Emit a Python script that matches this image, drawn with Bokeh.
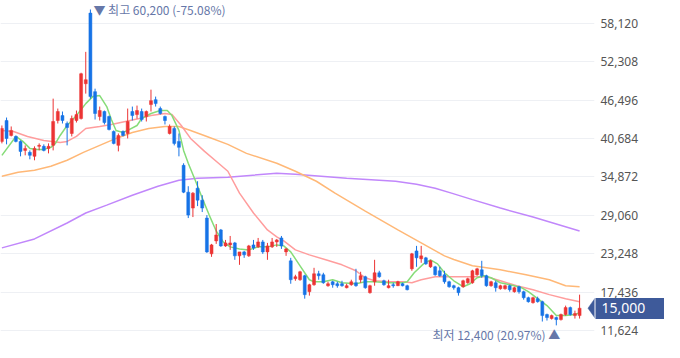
from bokeh.plotting import figure
from bokeh.models import (ColumnDataSource, FixedTicker, NumeralTickFormatter, Label,
                          Range1d, LinearAxis)
from bokeh.embed import file_html
from bokeh.resources import INLINE

# ---- candle data (KRW) ----
opens = [40240, 43400, 41140, 40990, 40240, 38880, 38580, 37980, 39490, 39490,
         39180, 39640, 43400, 44150, 42950, 41440, 43400, 43700, 48970, 59660,
         47770, 44000, 44760, 44000, 41740, 39640, 41740, 41440, 44760, 44300,
         44760, 44000, 45810, 46560, 45210, 44000, 41440, 42200, 40240, 36620,
         32560, 30150, 33160, 31350, 28640, 23220, 25180, 26840, 24430, 24580,
         24880, 22920, 23520, 22920, 24580, 24280, 25030, 23520, 24280, 25030,
         25630, 23520, 22170, 19460, 19310, 19910, 17500, 18550, 20210, 20060,
         18400, 19000, 18700, 18700, 18100, 18550, 18850, 19310, 19760, 17350,
         19000, 20360, 19150, 18100, 18550, 18400, 18700, 18400, 20960, 23670,
         22470, 22620, 21260, 21260, 20660, 20060, 19000, 18400, 18100, 18250,
         18850, 18850, 20060, 20810, 19910, 18400, 18850, 17950, 17950, 18400,
         17500, 18250, 17500, 16590, 15840, 16440, 15990, 14030, 13430, 13580,
         13280, 14030, 15090, 13880, 13880]
highs = [42650, 43850, 42500, 41140, 40390, 39640, 38880, 39490, 39940, 39790,
         39940, 46710, 45210, 44760, 43250, 44150, 44910, 50630, 53790, 60200,
         48220, 45510, 44910, 44150, 41900, 41440, 41900, 45210, 45510, 45660,
         45210, 44910, 48070, 47020, 45510, 44150, 42800, 42500, 41440, 36930,
         33460, 32560, 34210, 32100, 29090, 24730, 27740, 26990, 25330, 25930,
         25030, 23520, 23670, 24580, 25330, 25630, 25330, 24880, 25630, 25480,
         25930, 24120, 22620, 20060, 20660, 20060, 18700, 21110, 20660, 20360,
         19000, 19150, 19000, 19150, 18700, 19310, 20960, 20510, 19910, 18550,
         22320, 20660, 19310, 19310, 18850, 19150, 18850, 18550, 23370, 24430,
         24430, 22770, 22320, 21410, 21260, 20660, 19150, 18550, 18250, 19310,
         19610, 20810, 21110, 22170, 20060, 19150, 19150, 18550, 18550, 18550,
         18250, 18400, 17650, 16740, 16740, 16740, 16140, 14180, 14030, 13730,
         14180, 15390, 15240, 14630, 17050]
lows = [39940, 39790, 40990, 40090, 37980, 38130, 37530, 37380, 38880, 38730,
        38430, 38880, 42950, 42950, 39640, 40990, 43100, 43550, 47470, 46710,
        43550, 43400, 42800, 41900, 39790, 38730, 40990, 40690, 43400, 43700,
        43250, 43250, 44760, 45510, 44300, 42800, 41290, 39640, 37980, 32410,
        28640, 28790, 30450, 29550, 23370, 22770, 24730, 24280, 24280, 23820,
        22320, 21560, 22620, 22770, 23820, 24120, 23220, 22320, 24120, 24280,
        23970, 22920, 18700, 19150, 19150, 16440, 16900, 18400, 19310, 18700,
        18250, 18100, 18100, 18250, 18000, 18400, 18250, 18850, 17950, 17200,
        18400, 19610, 18400, 18000, 18100, 18350, 18300, 17700, 20660, 21260,
        21870, 21560, 21110, 19910, 19760, 18700, 18100, 17800, 16900, 18100,
        18700, 18700, 19910, 19610, 18250, 18250, 17500, 17800, 17800, 17500,
        17350, 17200, 16290, 15840, 15690, 15840, 12980, 13130, 13280, 12400,
        13130, 13880, 13880, 13430, 13430]
closes = [42200, 40690, 41900, 40240, 38730, 39180, 38130, 39180, 39640, 38880,
          39490, 43250, 44760, 43400, 42350, 43700, 44300, 50480, 49580, 47020,
          44460, 44910, 43100, 42050, 39940, 41140, 41140, 43250, 44150, 44910,
          43550, 44760, 46410, 45960, 44460, 43400, 42500, 39940, 39340, 32560,
          29090, 32410, 31350, 30150, 23520, 24580, 26080, 24430, 24880, 24880,
          22920, 23520, 23070, 24430, 24120, 25030, 23520, 24430, 25030, 25330,
          24430, 23970, 19310, 19760, 20510, 17050, 18550, 20210, 19910, 18850,
          18700, 18550, 18400, 18400, 18400, 19000, 18400, 19910, 18100, 18400,
          20360, 19760, 18550, 18400, 18400, 19000, 18400, 17800, 23220, 22620,
          22920, 21710, 22170, 20060, 19910, 19000, 18250, 18100, 17350, 19150,
          19460, 20660, 20960, 19910, 18400, 19000, 18100, 18400, 18400, 17800,
          18100, 17500, 16590, 15990, 16590, 15990, 13880, 13580, 13880, 13280,
          14030, 15090, 14030, 14180, 15000]

# ---- moving averages (sampled along the session index) ----
ma5_x = [0, 3, 4.5, 6, 7.5, 9, 10.5, 11.5, 12.5, 14, 15, 16, 18, 19.5, 21, 22.5, 23.5,
         24.5, 26, 27, 29, 30, 32, 34, 35.5, 36.5, 38, 39, 40, 41.5, 43, 44.5, 46, 47.5,
         49, 51, 53, 55, 57, 59, 60.5, 62, 64, 66, 67, 69, 71, 73, 76, 78, 80, 83, 86,
         87, 88.5, 90.5, 92, 93.5, 95, 97, 99, 100.5, 102, 103.5, 105, 107, 110, 111.5,
         113, 115, 117, 119, 121, 123, 124]
ma5_v = [38130, 40990, 40240, 39180, 39030, 39030, 39340, 39940, 41140, 42650, 43400,
         44150, 45960, 47020, 47170, 45510, 43550, 41900, 41600, 41900, 42650, 43700,
         44460, 44910, 44910, 44150, 41900, 38880, 36930, 34360, 31660, 29090, 26680,
         25030, 24280, 23970, 23820, 24280, 24280, 24580, 24430, 23520, 21410, 19310,
         19000, 19000, 19310, 18850, 18700, 19000, 19000, 18850, 18850, 19000, 20360,
         21710, 22320, 21710, 20360, 19150, 18250, 18700, 19610, 19910, 19610, 18850,
         18400, 18100, 17500, 16440, 15390, 13880, 13880, 14030, 14330]
ma20_x = [0, 2.5, 5.5, 9, 12.5, 14, 16, 18, 21, 23.5, 26.5, 29.5, 32, 35, 36.5, 38.5,
          40.5, 43.5, 46.5, 48.5, 51, 54, 57, 59, 60.5, 63, 66, 69.5, 73, 76, 78, 80,
          83, 86, 88, 90, 93, 97, 101, 104, 107, 110.5, 114, 117.5, 121, 124]
ma20_v = [41900, 41740, 40990, 40390, 40090, 40240, 40990, 42200, 42500, 42800, 43250,
          43700, 44150, 44460, 44300, 42650, 40690, 38730, 36930, 35720, 32410, 29400,
          26840, 25780, 25180, 23820, 23070, 22320, 21560, 20660, 19610, 19150, 19000,
          19000, 18850, 19310, 19760, 19760, 19760, 19760, 19150, 18400, 17800, 17050,
          16440, 15990]
ma60_x = [0, 3.5, 7, 10.5, 14, 17.5, 21, 24.5, 28, 31.5, 35, 38, 40.5, 44, 48.5, 52.5,
          59, 63, 67.5, 71.5, 78, 85, 90, 95, 97, 101, 107, 112.5, 117.5, 121, 124]
ma60_v = [34970, 35570, 35870, 36470, 37380, 38580, 39640, 40690, 41590, 42200, 42500,
          42500, 41900, 40990, 39790, 38430, 36930, 35720, 34210, 32410, 29700, 26840,
          24880, 22920, 22370, 21410, 20810, 20060, 19310, 18400, 18250]
ma120_x = [0, 7, 14, 18, 22.5, 28, 33.5, 38, 42, 48.5, 59, 63, 74, 84.5, 89, 93, 96.5,
           101, 107, 114, 124]
ma120_v = [24130, 25480, 27890, 29400, 30600, 32100, 33460, 34360, 34670, 34820, 35420,
           35270, 34670, 34220, 33760, 33160, 32410, 31430, 30150, 28790, 26680]

y_ticks = [11624, 17436, 23248, 29060, 34872, 40684, 46496, 52308, 58120]
last_price = 15000
high_idx, high_text = 19, "▼ 최고 60,200 (-75.08%)"
low_idx, low_text = 119, "최저 12,400 (20.97%) ▲"

UP, DOWN = "#ec3434", "#1673e6"
TAG = "#3e5a9a"
idx = list(range(len(opens)))
colors = [UP if c >= o else DOWN for o, c in zip(opens, closes)]
src = ColumnDataSource(dict(
    x=idx, o=opens, h=highs, l=lows, c=closes,
    top=[max(o, c) for o, c in zip(opens, closes)],
    bot=[min(o, c) for o, c in zip(opens, closes)],
    col=colors))

XSTART, XEND = -0.3, 127.2
p = figure(width=664, height=342, output_backend="svg", toolbar_location=None,
           x_range=Range1d(XSTART, XEND), y_range=Range1d(9808, 61562),
           y_axis_location="right", x_axis_location=None,
           min_border_left=0, min_border_top=0, min_border_bottom=0,
           min_border_right=70)
p.outline_line_color = None
p.background_fill_color = "white"
p.border_fill_color = "white"
p.xgrid.visible = False
p.ygrid.ticker = FixedTicker(ticks=y_ticks)
p.ygrid.grid_line_color = "#eef0f4"
p.ygrid.grid_line_width = 1

# main price axis
ax = p.yaxis[0]
ax.ticker = FixedTicker(ticks=y_ticks)
ax.formatter = NumeralTickFormatter(format="0,0")
ax.axis_line_color = None
ax.major_tick_line_color = None
ax.minor_tick_line_color = None
ax.major_tick_out = 0
ax.major_tick_in = 0
ax.minor_tick_out = 0
ax.minor_tick_in = 0
ax.major_label_standoff = 6
ax.major_label_text_font = "Noto Sans"
ax.major_label_text_font_size = "12px"
ax.major_label_text_color = "#555555"

# outer axis with one tick: its thick tick is the last-price tag's box,
# its label (pulled back over the box) is the last price
tag_ax = LinearAxis(ticker=FixedTicker(ticks=[last_price]),
                    formatter=NumeralTickFormatter(format="0,0"),
                    axis_line_color=None,
                    major_tick_line_color=TAG, major_tick_line_width=21,
                    major_tick_in=46, major_tick_out=26,
                    minor_tick_line_color=None, minor_tick_in=0, minor_tick_out=0,
                    major_label_standoff=-66,
                    major_label_text_font="Noto Sans",
                    major_label_text_font_size="14px",
                    major_label_text_color="white")
p.add_layout(tag_ax, "right")

# moving averages
p.line(ma120_x, ma120_v, color="#c187fb", line_width=1.5)
p.line(ma60_x, ma60_v, color="#ffb877", line_width=1.5)
p.line(ma20_x, ma20_v, color="#ff9d9d", line_width=1.5)
p.line(ma5_x, ma5_v, color="#86dc78", line_width=1.5)

# candles
p.segment(x0="x", x1="x", y0="h", y1="l", color="col", line_width=1, source=src)
p.vbar(x="x", width=0.64, top="top", bottom="bot", fill_color="col",
       line_color="col", line_width=0.5, source=src)

LBL = "#6677a8"
p.add_layout(Label(x=high_idx, y=highs[high_idx], text=high_text, x_offset=3,
                   y_offset=0, text_align="left", text_baseline="middle",
                   text_font="Noto Sans CJK KR", text_font_size="12px",
                   text_color=LBL))
p.add_layout(Label(x=low_idx, y=lows[low_idx], text=low_text, x_offset=4,
                   y_offset=-1, text_align="right", text_baseline="top",
                   text_font="Noto Sans CJK KR", text_font_size="12px",
                   text_color=LBL))

# arrow tip of the tag, inside the frame
hh = 10.5 * 151.3
p.patch([XEND - 1.4, XEND + 0.2, XEND + 0.2],
        [last_price, last_price + hh, last_price - hh],
        fill_color=TAG, line_color=TAG, line_width=0.5)

open("out.html", "w").write(file_html(p, INLINE))
